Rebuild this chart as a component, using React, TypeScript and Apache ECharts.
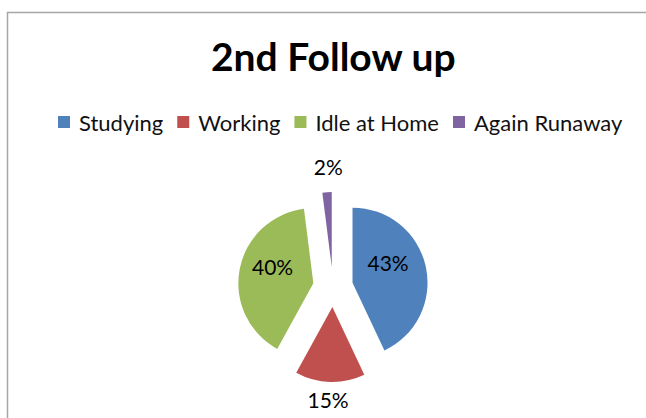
import React, { useEffect, useRef } from "react";
import * as echarts from "echarts";

const categories = ["Studying", "Working", "Idle at Home", "Again Runaway"];
const values = [43, 15, 40, 2];
const colors = ["#4F81BD", "#C0504D", "#9BBB59", "#8064A2"];
const labelShiftX = [-4, -3, -1, -1];
const labelShiftY = [-11, 52, -9, -60];
const titleText = "2nd Follow up";

export default function App() {
  const ref = useRef<HTMLDivElement>(null);
  useEffect(() => {
    if (!ref.current) return;
    const chart = echarts.init(ref.current, null, { renderer: "svg" });
    const data = categories.map((name, i) => ({
      name,
      value: values[i],
      selected: true,
      itemStyle: { color: colors[i] },
    }));
    chart.setOption({
      animation: false,
      backgroundColor: "#ffffff",
      title: {
        text: titleText,
        left: 206,
        top: 31,
        textStyle: { fontFamily: "Lato", fontWeight: "bold", fontSize: 39, color: "#000" },
      },
      legend: {
        data: categories,
        left: 53,
        top: 106,
        icon: "rect",
        itemWidth: 12,
        itemHeight: 12,
        itemGap: 14,
        selectedMode: false,
        textStyle: { fontFamily: "Lato", fontSize: 22, color: "#111", padding: [0, 0, 0, 4] },
      },
      graphic: [
        {
          type: "rect",
          shape: { x: 7.5, y: 12.5, width: 700, height: 500 },
          style: { fill: "none", stroke: "#a6a6a6", lineWidth: 1.5 },
          silent: true,
        },
      ],
      series: [
        {
          type: "pie",
          center: [333, 287],
          radius: 75,
          startAngle: 90,
          clockwise: true,
          selectedMode: "multiple",
          selectedOffset: 20,
          avoidLabelOverlap: false,
          emphasis: { disabled: true },
          select: { itemStyle: { borderWidth: 0 } },
          label: {
            position: "inside",
            formatter: "{c}%",
            fontFamily: "Lato",
            fontSize: 21,
            color: "#000",
          },
          labelLine: { show: false },
          labelLayout: (p: any) => ({ dx: labelShiftX[p.dataIndex], dy: labelShiftY[p.dataIndex] }),
          data,
        },
      ],
    });
    return () => chart.dispose();
  }, []);
  return (
    <div
      ref={ref}
      style={{ position: "fixed", left: 0, top: 0, width: 646, height: 418 }}
    />
  );
}
